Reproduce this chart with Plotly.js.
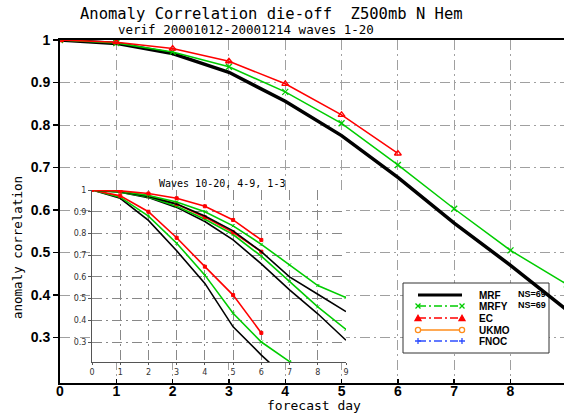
<!DOCTYPE html>
<html><head><meta charset="utf-8">
<script src="https://cdn.plot.ly/plotly-3.0.1.min.js"></script>
<style>html,body{margin:0;padding:0;background:#fff}#chart{width:564px;height:414px}</style>
</head><body><div id="chart"></div>
<script>
// ---------- data ----------
const days = [0,1,2,3,4,5,6,7,8,9];
const mrf  = [1.0,0.992,0.968,0.924,0.856,0.775,0.677,0.569,0.470,0.365];
const mrfy = [1.0,0.993,0.972,0.937,0.878,0.804,0.706,0.603,0.505,0.425];
const ec   = [1.0,0.995,0.980,0.950,0.897,0.824,0.733];

// inset: waves 1-3 (top group), 4-9 (middle group), 10-20 (steep group)
const mrfW13    = [1.0,0.993,0.970,0.935,0.880,0.812,0.716,0.600,0.520,0.440];
const mrfyW13   = [1.0,0.994,0.975,0.945,0.900,0.835,0.750,0.655,0.560,0.505];
const ecW13     = [1.0,0.996,0.984,0.962,0.925,0.862,0.770];
const mrfW49    = [1.0,0.990,0.965,0.920,0.855,0.770,0.660,0.540,0.430,0.308];
const mrfyW49   = [1.0,0.990,0.968,0.925,0.865,0.795,0.695,0.580,0.462,0.358];
const ecW49     = [1.0,0.993,0.975,0.935,0.875,0.805,0.716];
const mrfW1020  = [1.0,0.962,0.860,0.720,0.570,0.370,0.240,0.120];
const mrfyW1020 = [1.0,0.967,0.880,0.755,0.608,0.432,0.300,0.210,0.140];
const ecW1020   = [1.0,0.973,0.900,0.780,0.647,0.516,0.342];

const xTickVals = [0,1,2,3,4,5,6,7,8];
const xTickText = ['0','1','2','3','4','5','6','7','8'];
const yTickVals = [0.3,0.4,0.5,0.6,0.7,0.8,0.9,1.0];
const yTickText = ['0.3','0.4','0.5','0.6','0.7','0.8','0.9','1'];
const insetXTickVals = [0,1,2,3,4,5,6,7,8,9];
const insetXTickText = ['0','1','2','3','4','5','6','7','8','9'];

const legendNames = ['MRF','MRFY','EC','UKMO','FNOC'];
const legendNS = ['NS=69','NS=69'];

// ---------- styling ----------
const BLACK='#000000', GREEN='#00cc00', RED='#ff0000', ORANGE='#ff8c1a', BLUE='#2f4fff';
const L=60, T=40, W=504, H=343;
const xr=[0,8.95], yr=[0.193,1.0];
const px2x = p => xr[0] + (p-L)/W*(xr[1]-xr[0]);
const py2y = p => yr[1] - (p-T)/H*(yr[1]-yr[0]);
const pxX = p => (p-L)/W;
const pxY = p => (T+H-p)/H;
const MONO = 'DejaVu Sans Mono, monospace';

const traces = [];
function main(y, color, width, sym){
  const t = {x: days.slice(0,y.length), y: y, xaxis:'x', yaxis:'y', mode: sym?'lines+markers':'lines',
    line:{color:color,width:width}, hoverinfo:'skip'};
  if(sym) t.marker = {symbol:sym, size:6, color:color, line:{color:color,width:1.3}};
  traces.push(t);
}
function inset(y, color, sym){
  const t = {x: days.slice(0,y.length), y: y, xaxis:'x2', yaxis:'y2', mode: sym?'lines+markers':'lines',
    line:{color:color,width:1.6}, hoverinfo:'skip'};
  if(sym) t.marker = {symbol:sym, size:3, color:color, line:{color:color,width:1}};
  traces.push(t);
}
inset(mrfW1020, BLACK); inset(mrfyW1020, GREEN, 'x-thin-open'); inset(ecW1020, RED, 'square');
inset(mrfW49, BLACK);   inset(mrfyW49, GREEN, 'x-thin-open');   inset(ecW49, RED, 'square');
inset(mrfW13, BLACK);   inset(mrfyW13, GREEN, 'x-thin-open');   inset(ecW13, RED, 'square');
main(mrf, BLACK, 3.5);
main(mrfy, GREEN, 1.5, 'x-thin-open');
main(ec, RED, 1.5, 'triangle-up-open');

const gridDash = '10px,4px,2px,4px';
const tickFont = {family:'Liberation Sans, Arial, sans-serif', size:14, color:'#000', weight:'bold'};
const insetFont = {family:'DejaVu Sans, sans-serif', size:8, color:'#333'};

const shapes = [];
// inset background
shapes.push({type:'rect', xref:'x2', yref:'y2', x0:0, x1:9, y0:0.208, y1:1.0, layer:'below',
  fillcolor:'#ffffff', line:{width:0}});
// legend box
shapes.push({type:'rect', xref:'x', yref:'y', x0:px2x(403), x1:px2x(549), y0:py2y(353), y1:py2y(283),
  layer:'between', fillcolor:'#ffffff', line:{color:'#333', width:1}});
const rows = [295,306,318,330,341];
const legColors = [BLACK, GREEN, RED, ORANGE, BLUE];
const legWidths = [3, 1.5, 1.5, 1.5, 1.5];
const legDash = ['solid', '8px,3px,2px,3px', '8px,3px,2px,3px', 'solid', '8px,3px,2px,3px'];
const markerPaths = [null,
  'M-2.5,-2.5L2.5,2.5M-2.5,2.5L2.5,-2.5',
  'M-3,-2.5L3,-2.5L0,2.8Z',
  'circle',
  'M-3,0L3,0M0,-3L0,3'];
const annotations = [];
rows.forEach((ry,i)=>{
  shapes.push({type:'line', xref:'x', yref:'y', x0:px2x(418), x1:px2x(462), y0:py2y(ry), y1:py2y(ry),
    line:{color:legColors[i], width:legWidths[i], dash:legDash[i]}});
  if(markerPaths[i]){
    [418,462].forEach(mx=>{
      if(markerPaths[i]==='circle'){
        shapes.push({type:'circle', xref:'x', yref:'y', xsizemode:'pixel', ysizemode:'pixel',
          xanchor:px2x(mx), yanchor:py2y(ry), x0:-2.6, x1:2.6, y0:-2.6, y1:2.6,
          fillcolor:'#ffffff', line:{color:legColors[i], width:1.3}});
      } else {
        shapes.push({type:'path', xref:'x', yref:'y', xsizemode:'pixel', ysizemode:'pixel',
          xanchor:px2x(mx), yanchor:py2y(ry), path:markerPaths[i],
          fillcolor: i===2 ? RED : 'rgba(0,0,0,0)',
          line:{color:legColors[i], width:1.3}});
      }
    });
  }
  annotations.push({xref:'paper', yref:'paper', x:pxX(477), y:pxY(ry), xanchor:'left', yanchor:'middle',
    text:legendNames[i], showarrow:false, font:{family:'Liberation Sans, Arial, sans-serif', size:10, color:'#000', weight:'bold'}});
});
legendNS.forEach((s,i)=>{
  annotations.push({xref:'paper', yref:'paper', x:pxX(516), y:pxY(rows[i]-1), xanchor:'left', yanchor:'middle',
    text:s, showarrow:false, font:{family:'Liberation Sans, Arial, sans-serif', size:9, color:'#000', weight:'bold'}});
});
annotations.push({xref:'paper', yref:'paper', x:pxX(271.5), y:pxY(13.5), xanchor:'center', yanchor:'middle',
  text:'Anomaly Correlation die-off&nbsp;&nbsp;Z500mb N Hem', showarrow:false, font:{family:MONO, size:15.5, color:'#000'}});
annotations.push({xref:'paper', yref:'paper', x:pxX(246), y:pxY(30), xanchor:'center', yanchor:'middle',
  text:'verif 20001012-20001214 waves 1-20', showarrow:false, font:{family:MONO, size:12.5, color:'#000'}});
annotations.push({xref:'paper', yref:'paper', x:pxX(17), y:pxY(248), xanchor:'center', yanchor:'middle', textangle:-90,
  text:'anomaly correlation', showarrow:false, font:{family:MONO, size:12.5, color:'#000'}});
annotations.push({xref:'paper', yref:'paper', x:pxX(314), y:pxY(405), xanchor:'center', yanchor:'middle',
  text:'forecast day', showarrow:false, font:{family:MONO, size:13, color:'#000'}});
annotations.push({xref:'paper', yref:'paper', x:pxX(222), y:pxY(183), xanchor:'center', yanchor:'middle',
  text:'Waves 10-20, 4-9, 1-3', showarrow:false, font:{family:MONO, size:10, color:'#000'}});

const layout = {
  width:564, height:414,
  margin:{l:L, r:564-L-W, t:T, b:414-T-H, pad:0},
  paper_bgcolor:'#ffffff', plot_bgcolor:'#ffffff',
  showlegend:false,
  xaxis:{range:xr, tickvals:xTickVals, ticktext:xTickText, ticks:'inside', ticklen:4, tickwidth:1.5, tickcolor:'#000',
    ticklabelstandoff:-6,
    showline:true, linecolor:'#000', linewidth:2, mirror:true, showgrid:true, gridcolor:'#a0a0a0', gridwidth:1,
    griddash:gridDash, zeroline:false, tickfont:tickFont, fixedrange:true},
  yaxis:{range:yr, tickvals:yTickVals, ticktext:yTickText, ticks:'outside', ticklen:5, tickwidth:1.5, tickcolor:'#000',
    showline:true, linecolor:'#000', linewidth:2, showgrid:true, gridcolor:'#a0a0a0', gridwidth:1,
    griddash:gridDash, zeroline:false, tickfont:tickFont, fixedrange:true},
  xaxis2:{domain:[pxX(92), pxX(346)], anchor:'y2', range:[0,9], tickvals:insetXTickVals, ticktext:insetXTickText,
    ticks:'outside', ticklen:2, tickcolor:'#555', showline:true, linecolor:'#555', linewidth:1,
    showgrid:true, gridcolor:'#888888', gridwidth:1, griddash:gridDash, zeroline:false, tickfont:insetFont, fixedrange:true},
  yaxis2:{domain:[pxY(362), pxY(190)], anchor:'x2', range:[0.208,1.0], tickvals:yTickVals, ticktext:yTickText,
    ticks:'outside', ticklen:3, tickcolor:'#555', showline:true, linecolor:'#555', linewidth:1,
    showgrid:true, gridcolor:'#888888', gridwidth:1, griddash:gridDash, zeroline:false, tickfont:insetFont, fixedrange:true},
  shapes:shapes,
  annotations:annotations
};
Plotly.newPlot('chart', traces, layout, {displayModeBar:false, staticPlot:true});
</script>
</body></html>
